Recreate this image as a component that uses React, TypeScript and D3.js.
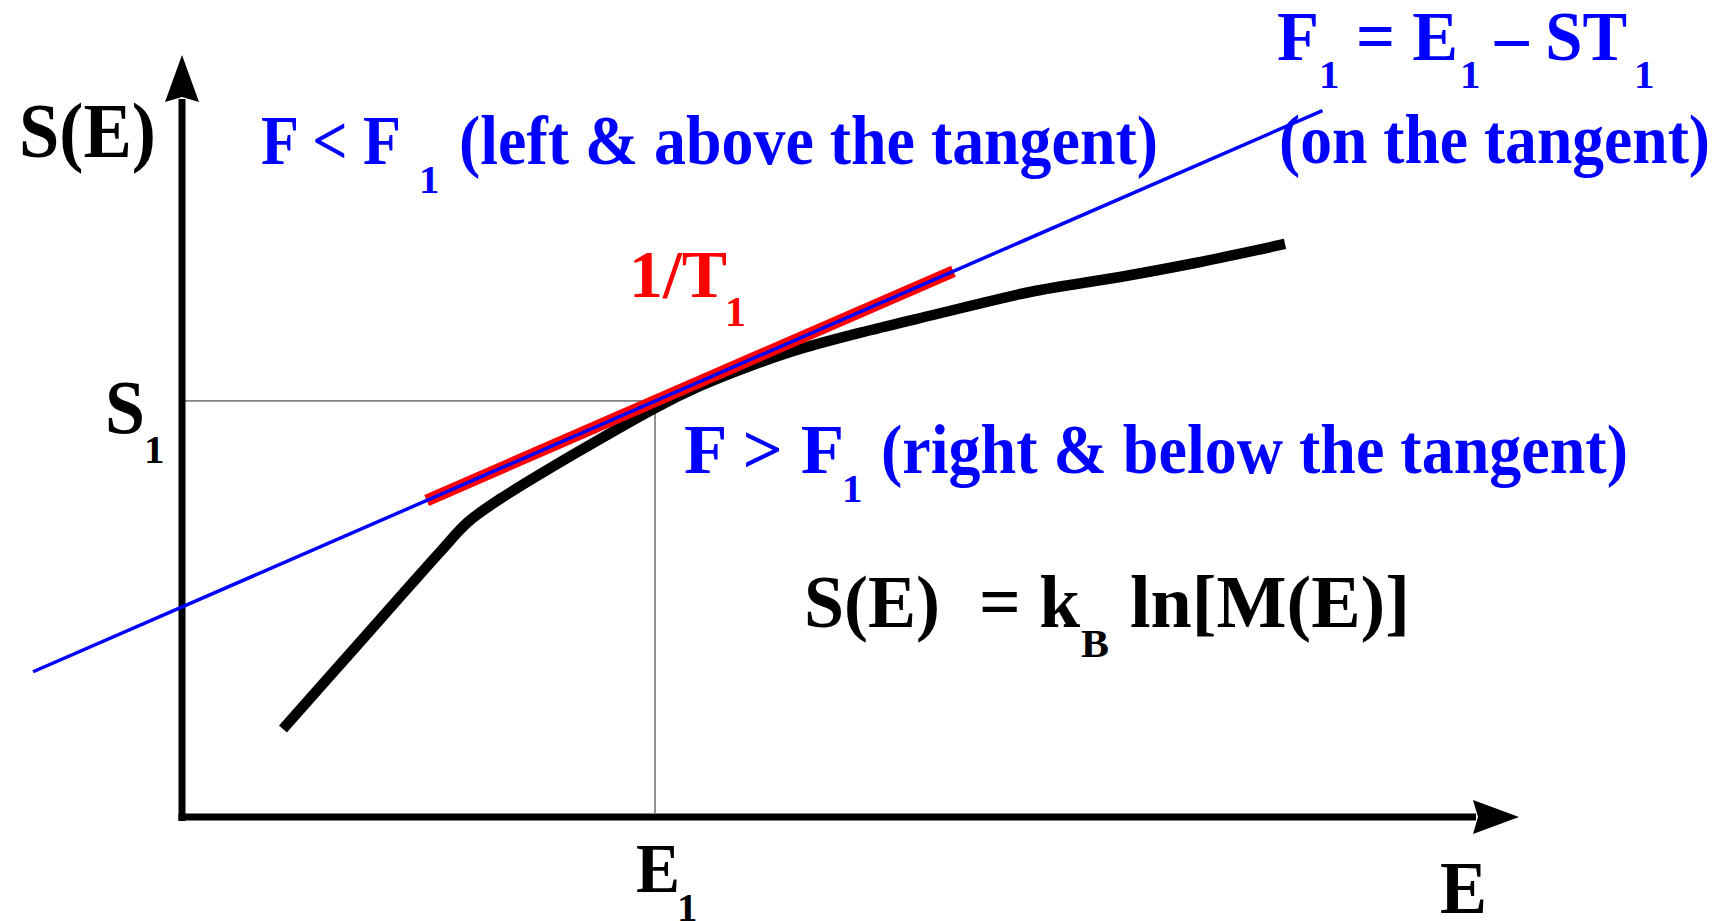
import React from "react";
import * as d3 from "d3";

// Entropy curve S(E): sampled (E, S) points in plot units
const curveE = [0.755, 1.279, 1.93, 2.139, 2.378, 3.538, 3.874, 4.248, 4.622, 5.123, 5.617, 6.343, 7.016, 7.539, 8.25];
const curveS = [1.155, 2.192, 3.478, 3.871, 4.173, 5.367, 5.656, 5.919, 6.142, 6.378, 6.588, 6.89, 7.087, 7.257, 7.52];

// Point of tangency (E1, S1)
const E1 = 3.538;
const S1 = 5.46;

// Tangent line with slope 1/T1 (long blue line)
const tangentE = [-1.114, 8.53];
const tangentS = [1.906, 9.27];

// Highlighted slope segment (red)
const slopeE = [1.83, 5.77];
const slopeS = [4.154, 7.163];

// Axis extents
const axisMax = 10;

const W = 1729;
const H = 921;
const FONT = "'Liberation Serif', 'Times New Roman', Times, serif";

const x = d3.scaleLinear().domain([0, axisMax]).range([182, 1519]);
const y = d3.scaleLinear().domain([0, axisMax]).range([817, 55]);

type Pt = { E: number; S: number };
const zip = (es: number[], ss: number[]): Pt[] => es.map((e, i) => ({ E: e, S: ss[i] }));

const straight = d3
  .line<Pt>()
  .x((d) => x(d.E))
  .y((d) => y(d.S));

const smooth = d3
  .line<Pt>()
  .x((d) => x(d.E))
  .y((d) => y(d.S))
  .curve(d3.curveCatmullRom.alpha(0.5));

type Piece = {
  t: string;
  x: number;
  y: number;
  size: number;
  len?: number;
  fill: string;
};

function Txt({ p }: { p: Piece }) {
  return (
    <text
      x={p.x}
      y={p.y}
      fontFamily={FONT}
      fontWeight="bold"
      fontSize={p.size}
      fill={p.fill}
      textLength={p.len}
      lengthAdjust={p.len ? "spacingAndGlyphs" : undefined}
    >
      {p.t}
    </text>
  );
}

export default function App() {
  const x0 = x(0);
  const y0 = y(0);
  const xE1 = x(E1);
  const yS1 = y(S1);

  // arrow heads (indented style)
  const yTip = y(axisMax);
  const xTip = x(axisMax);
  const upArrow = `M${x0},${yTip} L${x0 + 17},${yTip + 47} L${x0},${yTip + 42} L${x0 - 17},${yTip + 47} Z`;
  const rightArrow = `M${xTip},${y0} L${xTip - 46},${y0 - 17} L${xTip - 41},${y0} L${xTip - 46},${y0 + 17} Z`;

  const blue = "#0000ff";
  const red = "#ff0000";
  const black = "#000000";

  const texts: Piece[] = [
    { t: "S(E)", x: 19, y: 157, size: 78, len: 137, fill: black },

    { t: "F < F", x: 261, y: 164, size: 69, len: 140, fill: blue },
    { t: "1", x: 419, y: 193, size: 41, fill: blue },
    { t: "(left & above the tangent)", x: 459, y: 164, size: 69, len: 699, fill: blue },

    { t: "F", x: 1277, y: 60, size: 70, len: 42, fill: blue },
    { t: "1", x: 1319, y: 88, size: 41, fill: blue },
    { t: "= E", x: 1356, y: 60, size: 70, len: 102, fill: blue },
    { t: "1", x: 1460, y: 88, size: 41, fill: blue },
    { t: "\u2013 ST", x: 1495, y: 60, size: 70, len: 132, fill: blue },
    { t: "1", x: 1634, y: 88, size: 41, fill: blue },
    { t: "(on the tangent)", x: 1279, y: 163, size: 69, len: 431, fill: blue },

    { t: "1/T", x: 629, y: 297, size: 68, len: 98, fill: red },
    { t: "1", x: 725, y: 326, size: 42, fill: red },

    { t: "F > F", x: 684, y: 473, size: 69, len: 160, fill: blue },
    { t: "1", x: 842, y: 502, size: 41, fill: blue },
    { t: "(right & below the tangent)", x: 881, y: 473, size: 69, len: 747, fill: blue },

    { t: "S(E)", x: 804, y: 627, size: 73, len: 136, fill: black },
    { t: "= k", x: 979, y: 627, size: 73, len: 101, fill: black },
    { t: "B", x: 1081, y: 657, size: 39, len: 28, fill: black },
    { t: "ln[M(E)]", x: 1130, y: 627, size: 73, len: 280, fill: black },

    { t: "E", x: 1440, y: 913, size: 75, len: 47, fill: black },
  ];

  return (
    <svg
      width={W}
      height={H}
      viewBox={`0 0 ${W} ${H}`}
      style={{ position: "absolute", left: 0, top: 0, background: "#fff" }}
    >
      <rect x={0} y={0} width={W} height={H} fill="#fff" />

      {/* guide lines to the point of tangency */}
      <line x1={x0 + 3} y1={yS1} x2={xE1} y2={yS1} stroke="#222" strokeWidth={1} />
      <line x1={xE1} y1={yS1} x2={xE1} y2={y0 - 4} stroke="#222" strokeWidth={1} />

      {/* axes */}
      <line x1={x0} y1={y0 + 4} x2={x0} y2={yTip + 44} stroke={black} strokeWidth={7} />
      <line x1={x0 - 3.5} y1={y0} x2={xTip - 43} y2={y0} stroke={black} strokeWidth={7} />
      <path d={upArrow} fill={black} />
      <path d={rightArrow} fill={black} />

      {/* S(E) curve */}
      <path d={smooth(zip(curveE, curveS)) || ""} fill="none" stroke={black} strokeWidth={10.5} strokeLinejoin="round" />

      {/* slope segment and tangent */}
      <path d={straight(zip(slopeE, slopeS)) || ""} fill="none" stroke={red} strokeWidth={12} />
      <path d={straight(zip(tangentE, tangentS)) || ""} fill="none" stroke={blue} strokeWidth={3.5} />

      {/* axis value labels */}
      <text x={x0 - 77} y={yS1 + 32} fontFamily={FONT} fontWeight="bold" fontSize={76} textLength={40} lengthAdjust="spacingAndGlyphs">S</text>
      <text x={x0 - 38} y={yS1 + 62} fontFamily={FONT} fontWeight="bold" fontSize={41}>1</text>
      <text x={xE1 - 19} y={892} fontFamily={FONT} fontWeight="bold" fontSize={70} textLength={44} lengthAdjust="spacingAndGlyphs">E</text>
      <text x={xE1 + 22} y={921} fontFamily={FONT} fontWeight="bold" fontSize={41}>1</text>

      {texts.map((p, i) => (
        <Txt key={i} p={p} />
      ))}
    </svg>
  );
}
